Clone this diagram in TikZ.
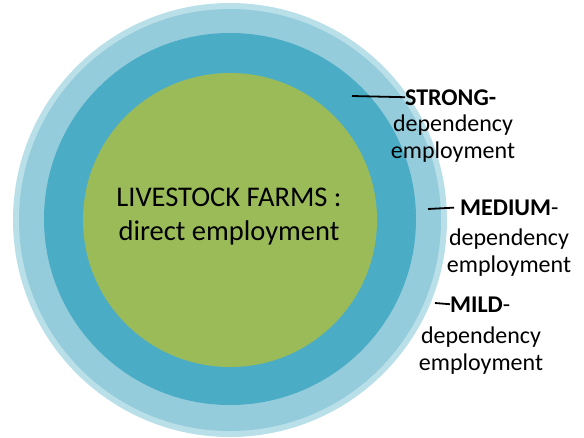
\documentclass[tikz,border=0pt]{standalone}
\usepackage{fontspec}
\setmainfont{Carlito}
\usetikzlibrary{positioning}

\definecolor{rimblue}{HTML}{B9DFE9}
\definecolor{paleblue}{HTML}{95CCDC}
\definecolor{aquablue}{HTML}{4BACC6}
\definecolor{olivegreen}{HTML}{9BBB59}

\begin{document}
\begin{tikzpicture}[x=1pt, y=-1pt,
    tagword/.style={font=\fontsize{24}{26.5}\selectfont\bfseries, inner sep=0pt, anchor=base west},
    tagtext/.style={font=\fontsize{24}{26.5}\selectfont, inner sep=0pt, align=center, anchor=base},
    leader/.style={line width=1.8pt}]
    \useasboundingbox (0,0) rectangle (584,437);

    % Rings, outermost first
    \fill[rimblue] (230,220) circle (217);
    \fill[paleblue] (230,220) circle (211);
    \fill[aquablue] (230,219) circle (186);
    \fill[olivegreen] (230,220) circle (147);

    % Core
    \node[font=\fontsize{28.5}{34}\selectfont, inner sep=0pt, align=center] (farms) at (229,217)
        {LIVESTOCK FARMS :\\ direct employment};

    % Strong
    \node[tagword] (strong) at (405,105) {STRONG-};
    \node[tagtext] (strongtext) at (453,158) {dependency\\employment};
    \coordinate (strongtip) at (352,96);
    \draw[leader] (strongtip) -- (strong.west);

    % Medium
    \node[tagword] (medium) at (460,215) {MEDIUM\textmd{-}};
    \node[tagtext] (mediumtext) at (509,272) {dependency\\employment};
    \coordinate (mediumtip) at (428,209);
    \draw[leader, shorten >=6pt] (mediumtip) -- (medium.west);

    % Mild
    \node[tagword] (mild) at (450,312) {MILD\textmd{-}};
    \node[tagtext] (mildtext) at (481,370) {dependency\\employment};
    \coordinate (mildtip) at (435,303);
    \draw[leader] (mildtip) -- (mild.west);
\end{tikzpicture}
\end{document}
